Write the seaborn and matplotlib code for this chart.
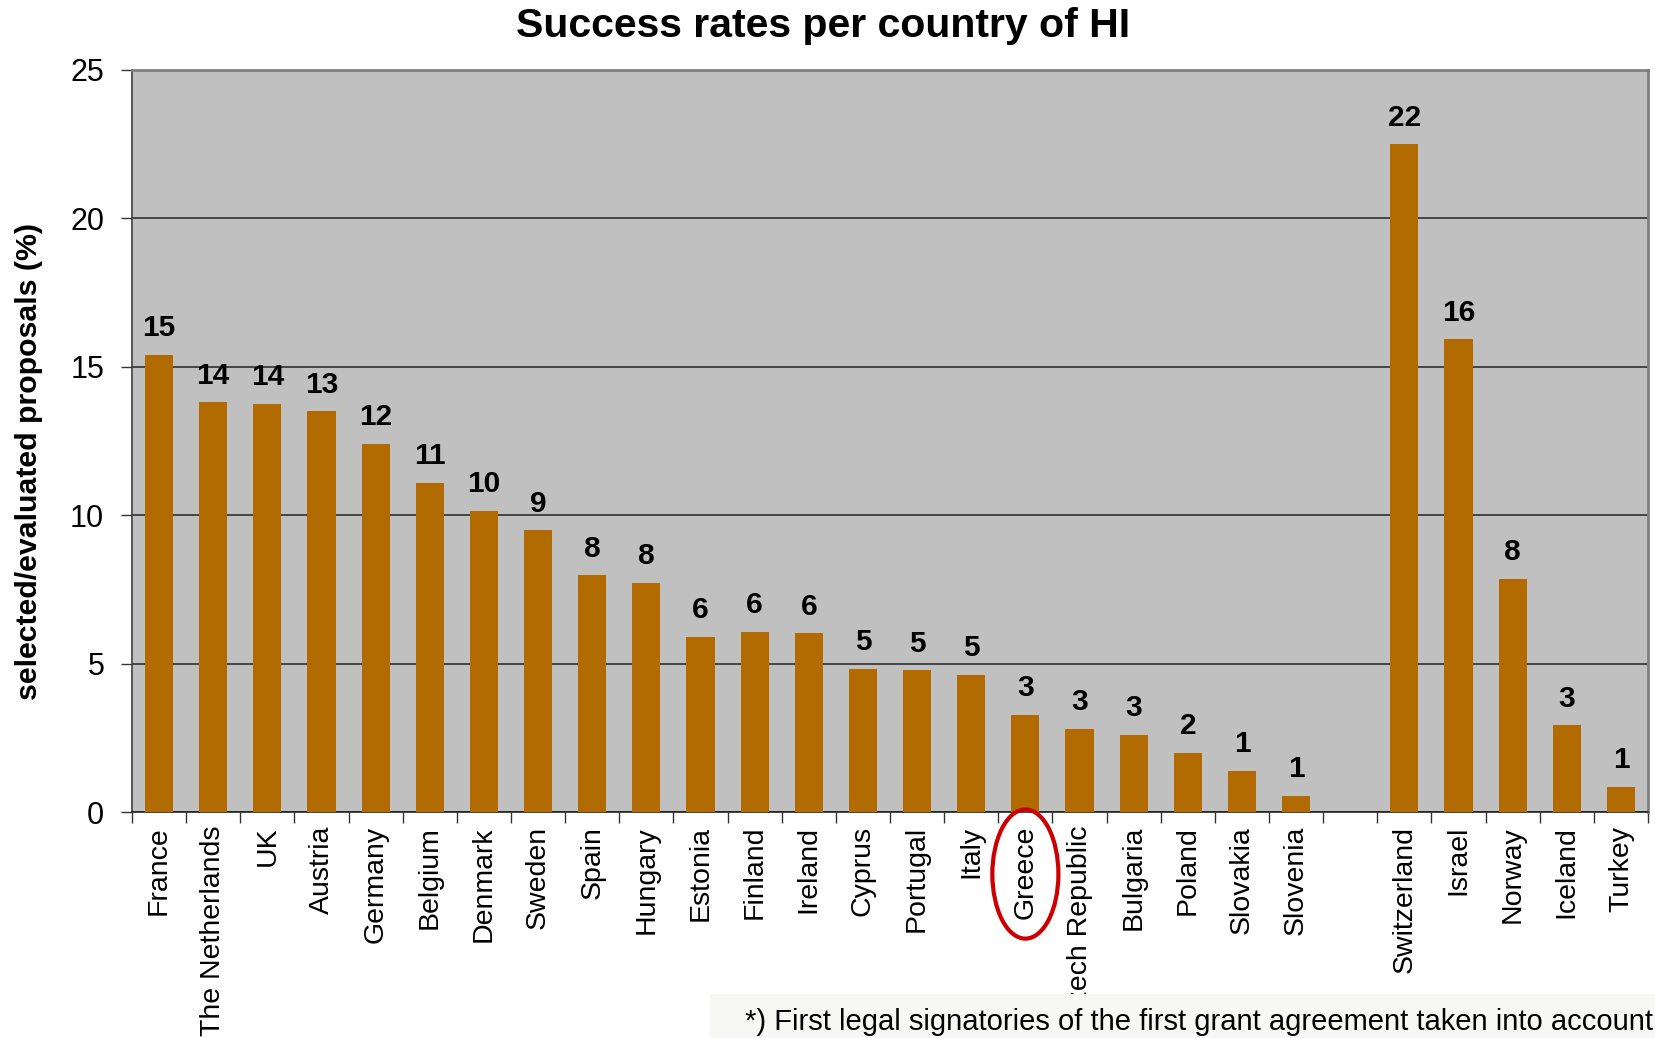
import matplotlib
matplotlib.use('Agg')
import matplotlib.pyplot as plt
from matplotlib import font_manager
from matplotlib.patches import Ellipse, Rectangle
import pandas as pd
import seaborn as sns

# Data
countries = ['France', 'The Netherlands', 'UK', 'Austria', 'Germany', 'Belgium',
             'Denmark', 'Sweden', 'Spain', 'Hungary', 'Estonia', 'Finland',
             'Ireland', 'Cyprus', 'Portugal', 'Italy', 'Greece', 'Czech Republic',
             'Bulgaria', 'Poland', 'Slovakia', 'Slovenia',
             'Switzerland', 'Israel', 'Norway', 'Iceland', 'Turkey']
rates = [15.4, 13.8, 13.75, 13.5, 12.4, 11.1,
         10.15, 9.5, 7.97, 7.72, 5.9, 6.07,
         6.02, 4.83, 4.77, 4.62, 3.27, 2.81,
         2.6, 1.99, 1.39, 0.54,
         22.5, 15.93, 7.86, 2.92, 0.85]
value_labels = ['15', '14', '14', '13', '12', '11',
                '10', '9', '8', '8', '6', '6',
                '6', '5', '5', '5', '3', '3',
                '3', '2', '1', '1',
                '22', '16', '8', '3', '1']
# empty slot between EU members and associated countries
order = countries[:22] + [' '] + countries[22:]

dados = pd.DataFrame({'Country': countries, 'Rate': rates})

sns.set_style('white')
fonte = 'Liberation Sans'
plt.rcParams['font.family'] = [fonte, 'DejaVu Sans']
plt.rcParams['text.color'] = 'black'
plt.rcParams['axes.labelcolor'] = 'black'
plt.rcParams['xtick.color'] = 'black'
plt.rcParams['ytick.color'] = 'black'

# narrow font for the footnote, if present
try:
    font_manager.findfont('Liberation Sans Narrow', fallback_to_default=False)
    fonte_nota = 'Liberation Sans Narrow'
    tam_nota = 22
except Exception:
    fonte_nota = 'Liberation Sans'
    tam_nota = 21

fig = plt.figure(figsize=(16.56, 10.38), dpi=100)
ax = fig.add_axes([0.0797, 0.2177, 0.9155, 0.7149])
ax.set_facecolor('#c0c0c0')

sns.barplot(data=dados, x='Country', y='Rate', order=order, color='#b26b00',
            saturation=1, width=0.52, ax=ax, zorder=3, linewidth=0,
            edgecolor='none')

# value labels above bars
for nome, valor, rotulo in zip(countries, rates, value_labels):
    ax.annotate(rotulo, xy=(order.index(nome), valor), xytext=(0, 9),
                textcoords='offset points', ha='center', va='bottom',
                fontsize=21.5, fontweight='bold', color='black')

ax.set_ylim(0, 25)
ax.set_xlim(-0.5, len(order) - 0.5)
ax.set_yticks([0, 5, 10, 15, 20, 25])
ax.yaxis.grid(True, color='#303030', linewidth=1.2, zorder=1)
ax.set_axisbelow(True)

# labels at centers, tick marks at slot boundaries
ax.set_xticks(range(len(order)))
ax.set_xticklabels(['' if c == ' ' else c for c in order], rotation=90,
                   fontsize=20.5, va='top', ha='center')
ax.set_xticks([i - 0.5 for i in range(len(order) + 1)], minor=True)
ax.tick_params(axis='x', which='major', length=0, pad=10)
ax.tick_params(axis='x', which='minor', length=8, width=1, color='#333333',
               direction='out', bottom=True)
ax.tick_params(axis='y', length=8, width=1, color='#333333', direction='out',
               left=True, pad=12, labelsize=22)

for lado in ['top', 'right']:
    ax.spines[lado].set_color('#808080')
    ax.spines[lado].set_linewidth(2)
ax.spines['left'].set_color('#404040')
ax.spines['bottom'].set_color('#222222')
ax.spines['left'].set_linewidth(1.2)
ax.spines['bottom'].set_linewidth(1.2)

ax.set_xlabel('')
ax.set_ylabel('selected/evaluated proposals (%)', fontsize=21.8, fontweight='bold')
ax.yaxis.set_label_coords(-0.059, 0.473)

fig.text(0.497, 1 - 26 / 1038, 'Success rates per country of HI', ha='center',
         va='center', fontsize=29.5, fontweight='bold')

# red ellipse around Greece
elipse = Ellipse((order.index('Greece'), -0.0836), width=1.22, height=0.174,
                 transform=ax.get_xaxis_transform(), fill=False,
                 edgecolor='#cc0000', linewidth=3, clip_on=False, zorder=5)
ax.add_patch(elipse)

# footnote box
fig.patches.append(Rectangle((710 / 1656, 0), 1 - 710 / 1656, 44 / 1038,
                             transform=fig.transFigure, facecolor='#f7f7f5',
                             edgecolor='none', zorder=10))
fig.text(745 / 1656, 16 / 1038,
         '*) First legal signatories of the first grant agreement taken into account',
         ha='left', va='center', fontsize=tam_nota, family=[fonte_nota, 'DejaVu Sans'],
         zorder=11)

fig.savefig('out.png', dpi=100)
